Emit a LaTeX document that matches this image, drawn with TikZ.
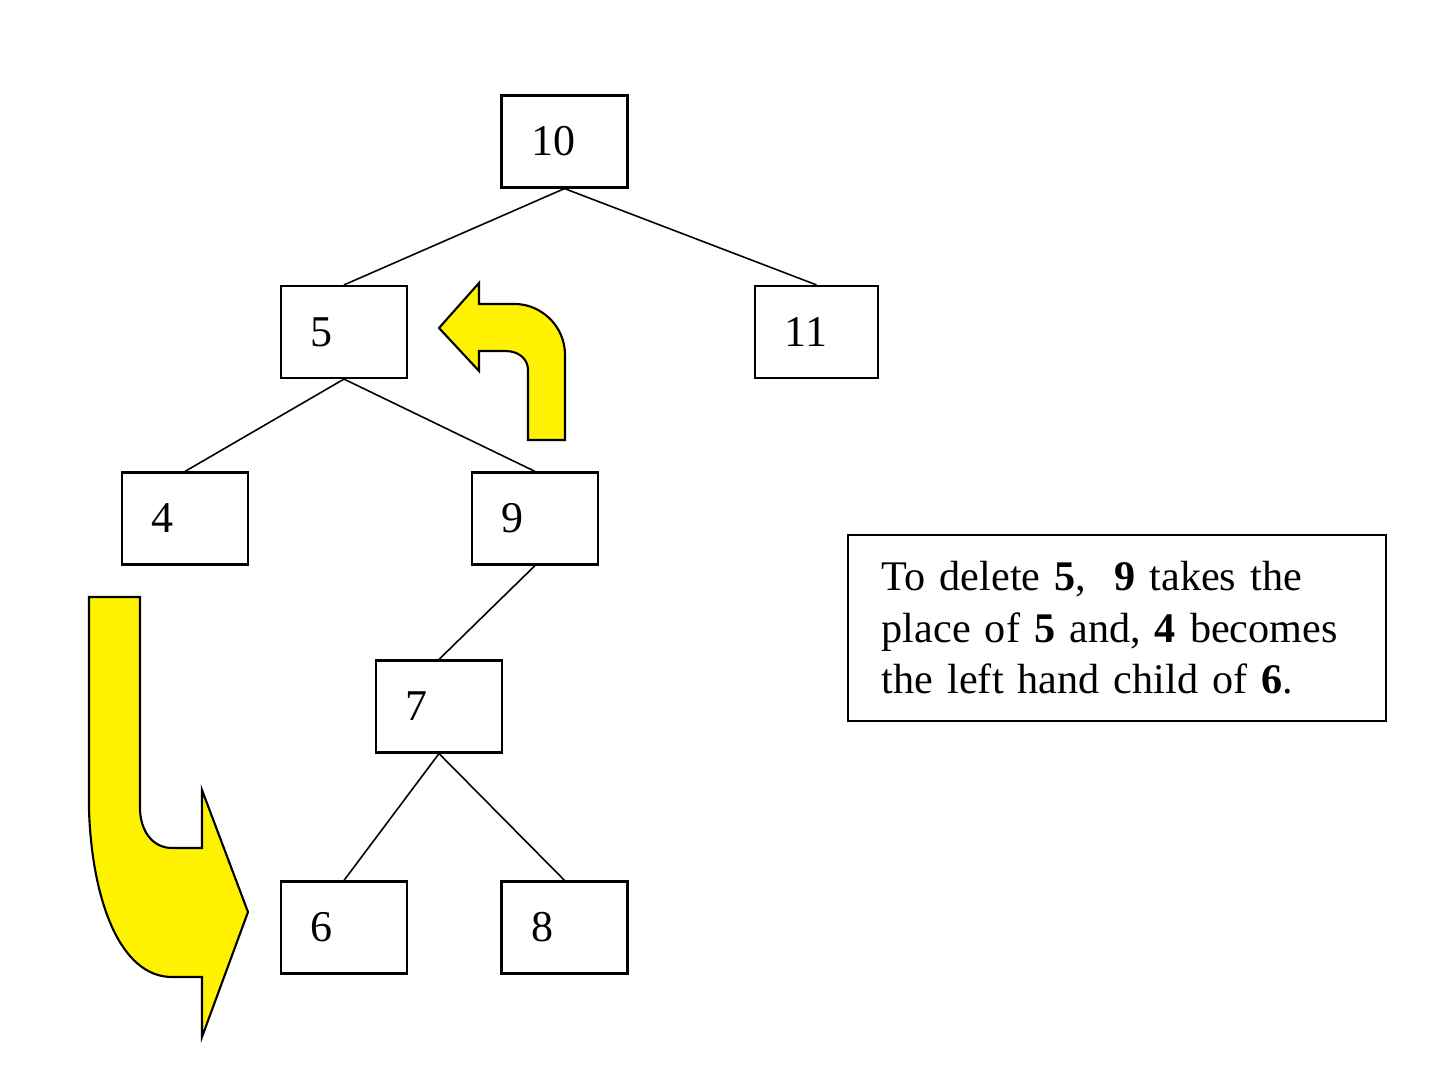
\documentclass[tikz,border=0pt]{standalone}
\usepackage{fontspec}
\setmainfont{Liberation Serif}
\usepackage{tikz}
\usetikzlibrary{arrows}

\tikzset{
  key/.style={draw, line width=0.6pt, rectangle, minimum height=0.92cm,
    text width=0.66cm, inner xsep=0.3cm, align=left,
    font=\fontsize{12.5}{15}\selectfont},
  note/.style={draw, line width=0.6pt, rectangle, minimum height=1.86cm,
    text width=4.7cm, inner xsep=0.34cm, align=left,
    font=\fontsize{12}{14.6}\selectfont},
  link/.style={line width=0.45pt},
  bigarrow/.style={fill=yellow, draw=black, line width=0.6pt, line join=miter}
}

\begin{document}
\begin{tikzpicture}[x=0.01cm,y=-0.01cm]
\useasboundingbox (0,0) rectangle (1434,1068);
%
\node[key](n10) at (564.5,141.5) {10};
%
\node[key](n5) at (344,332) {5};
\node[key, minimum width=1.23cm, text width=0.63cm](n11) at (816.5,332) {11};
\draw[link](n10.south) -- (n5.north);
\draw[link](n10.south) -- (n11.north);
%
\node[key](n4) at (185,518.5) {4};
\node[key](n9) at (535,518.5) {9};
\draw[link](n5.south) -- (n4.north);
\draw[link](n5.south) -- (n9.north);
%
\node[key](n7) at (439,706.5) {7};
\draw[link](n9.south) -- (n7.north);
%
\node[key](n6) at (344,927.5) {6};
\node[key](n8) at (564.5,927.5) {8};
\draw[link](n7.south) -- (n6.north);
\draw[link](n7.south) -- (n8.north);
%
\node[note](explain) at (1117,628) {\mbox{To delete \textbf{5},\ \ \textbf{9} takes the}\\
\mbox{place of \textbf{5} and, \textbf{4} becomes}\\
\mbox{the left hand child of \textbf{6}.}};
%
% 9 moves up into the place of 5
\draw[bigarrow] (565,440) -- (565,355) .. controls (565,325) and (540,304) .. (515,304)
  -- (479,304) -- (479,283) -- (439,328) -- (479,371) -- (479,351) -- (505,351)
  .. controls (520,351) and (528,360) .. (528,370) -- (528,440) -- cycle;
%
% 4 moves down under 6
\draw[bigarrow] (89,597) -- (89,810) .. controls (92,900) and (120,977) .. (172,977)
  -- (202,977) -- (202,1037) -- (248,912) -- (202,790) -- (202,848) -- (172,848)
  .. controls (152,848) and (140,830) .. (140,808) -- (140,597) -- cycle;
\end{tikzpicture}
\end{document}
